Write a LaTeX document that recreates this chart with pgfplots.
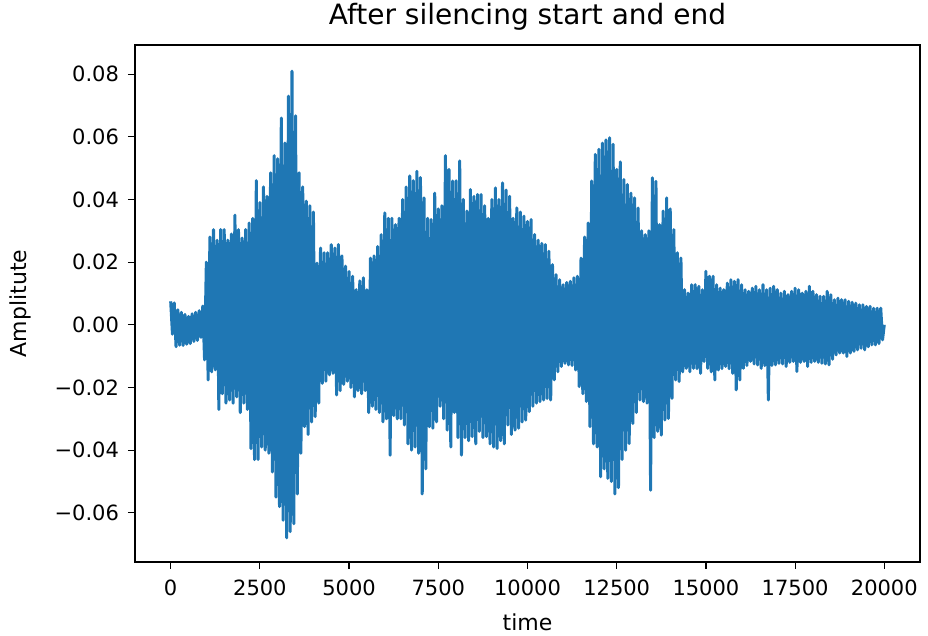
\documentclass[border=0pt]{standalone}
\usepackage{fontspec}
\setmainfont{DejaVu Sans}
\usepackage{pgfplots}
\pgfplotsset{compat=1.18}
\definecolor{mplblue}{HTML}{1F77B4}

\begin{document}
\begin{tikzpicture}
% page size: 1px of the reference = 0.5pt
\path[use as bounding box] (-67.5pt,-37pt) rectangle (396.5pt,281pt);
\begin{axis}[
    scale only axis,
    width=392.5pt, height=258.5pt,
    at={(0pt,0pt)}, anchor=south west,
    xmin=-1000, xmax=21000,
    ymin=-0.0757, ymax=0.0893,
    scaled ticks=false,
    font=\fontsize{10.5}{12.5}\selectfont,
    xtick={0,2500,5000,7500,10000,12500,15000,17500,20000},
    xticklabels={0,2500,5000,7500,10000,12500,15000,17500,20000},
    ytick={-0.06,-0.04,-0.02,0,0.02,0.04,0.06,0.08},
    yticklabels={−0.06,−0.04,−0.02,0.00,0.02,0.04,0.06,0.08},
    tick align=outside,
    xtick pos=bottom, ytick pos=left,
    major tick length=3.5pt,
    tick style={black, line width=0.6pt},
    axis line style={black, line width=0.6pt},
    xticklabel style={yshift=-2pt},
    yticklabel style={xshift=-1pt},
    title={After silencing start and end},
    title style={font=\fontsize{14}{16}\selectfont, yshift=-2pt},
    xlabel={time},
    ylabel={Amplitute},
    label style={font=\fontsize{11}{13}\selectfont},
    xlabel style={yshift=-2pt},
    ylabel style={yshift=5pt},
]
\addplot[mplblue, line width=1.5pt, line join=round, mark=none] table[row sep=\\] {
t v\\
0 0.0075\\ 50 -0.003\\ 100 0.007\\ 150 -0.007\\ 200 0.0048\\ 250 -0.0065\\ 300 0.004\\ 350 -0.0066\\ 400 0.0033\\ 450 -0.0062\\
500 0.0027\\ 550 -0.006\\ 600 0.0035\\ 650 -0.0053\\ 700 0.004\\ 750 -0.005\\ 800 0.0045\\ 850 -0.004\\ 900 0.006\\ 950 -0.0112\\
1000 0.020\\ 1050 -0.0176\\ 1100 0.028\\ 1150 -0.015\\ 1200 0.0304\\ 1250 -0.0144\\ 1300 0.027\\ 1350 -0.027\\ 1400 0.0304\\ 1450 -0.022\\
1500 0.0304\\ 1550 -0.025\\ 1600 0.027\\ 1650 -0.024\\ 1700 0.029\\ 1750 -0.025\\ 1800 0.035\\ 1850 -0.023\\ 1900 0.0304\\ 1950 -0.028\\
2000 0.0277\\ 2050 -0.025\\ 2100 0.0304\\ 2150 -0.027\\ 2200 0.0325\\ 2250 -0.0395\\ 2300 0.034\\ 2350 -0.043\\ 2400 0.046\\ 2450 -0.043\\
2500 0.039\\ 2550 -0.039\\ 2600 0.044\\ 2650 -0.040\\ 2700 0.041\\ 2750 -0.041\\ 2800 0.0485\\ 2850 -0.047\\ 2900 0.054\\ 2950 -0.055\\
3000 0.053\\ 3050 -0.058\\ 3100 0.066\\ 3150 -0.0624\\ 3200 0.058\\ 3250 -0.068\\ 3300 0.073\\ 3350 -0.066\\ 3400 0.081\\ 3450 -0.0635\\
3500 0.0667\\ 3550 -0.054\\ 3600 0.0485\\ 3650 -0.041\\ 3700 0.044\\ 3750 -0.0325\\ 3800 0.0395\\ 3850 -0.035\\ 3900 0.038\\ 3950 -0.031\\
4000 0.036\\ 4050 -0.0293\\ 4100 0.0197\\ 4150 -0.025\\ 4200 0.0245\\ 4250 -0.0187\\ 4300 0.023\\ 4350 -0.018\\ 4400 0.023\\ 4450 -0.016\\
4500 0.0256\\ 4550 -0.0155\\ 4600 0.0245\\ 4650 -0.0224\\ 4700 0.0256\\ 4750 -0.021\\ 4800 0.022\\ 4850 -0.019\\ 4900 0.0187\\ 4950 -0.018\\
5000 0.017\\ 5050 -0.020\\ 5100 0.0155\\ 5150 -0.023\\ 5200 0.0112\\ 5250 -0.021\\ 5300 0.014\\ 5350 -0.022\\ 5400 0.015\\ 5450 -0.021\\
5500 0.0112\\ 5550 -0.028\\ 5600 0.0213\\ 5650 -0.026\\ 5700 0.022\\ 5750 -0.027\\ 5800 0.025\\ 5850 -0.028\\ 5900 0.0288\\ 5950 -0.031\\
6000 0.0357\\ 6050 -0.030\\ 6100 0.034\\ 6150 -0.0416\\ 6200 0.034\\ 6250 -0.029\\ 6300 0.032\\ 6350 -0.030\\ 6400 0.034\\ 6450 -0.030\\
6500 0.040\\ 6550 -0.032\\ 6600 0.044\\ 6650 -0.038\\ 6700 0.0475\\ 6750 -0.040\\ 6800 0.046\\ 6850 -0.039\\ 6900 0.049\\ 6950 -0.041\\
7000 0.047\\ 7050 -0.054\\ 7100 0.0405\\ 7150 -0.046\\ 7200 0.034\\ 7250 -0.0325\\ 7300 0.0336\\ 7350 -0.033\\ 7400 0.042\\ 7450 -0.031\\
7500 0.037\\ 7550 -0.026\\ 7600 0.038\\ 7650 -0.030\\ 7700 0.054\\ 7750 -0.0336\\ 7800 0.0496\\ 7850 -0.039\\ 7900 0.0459\\ 7950 -0.028\\
8000 0.046\\ 8050 -0.036\\ 8100 0.0523\\ 8150 -0.0416\\ 8200 0.040\\ 8250 -0.036\\ 8300 0.0363\\ 8350 -0.037\\ 8400 0.0432\\ 8450 -0.0357\\
8500 0.041\\ 8550 -0.038\\ 8600 0.0416\\ 8650 -0.034\\ 8700 0.0416\\ 8750 -0.036\\ 8800 0.038\\ 8850 -0.0357\\ 8900 0.034\\ 8950 -0.038\\
9000 0.040\\ 9050 -0.039\\ 9100 0.0437\\ 9150 -0.0395\\ 9200 0.040\\ 9250 -0.037\\ 9300 0.0453\\ 9350 -0.038\\ 9400 0.043\\ 9450 -0.032\\
9500 0.041\\ 9550 -0.035\\ 9600 0.034\\ 9650 -0.0336\\ 9700 0.0373\\ 9750 -0.033\\ 9800 0.036\\ 9850 -0.031\\ 9900 0.0347\\ 9950 -0.0304\\
10000 0.033\\ 10050 -0.0277\\ 10100 0.0336\\ 10150 -0.026\\ 10200 0.0288\\ 10250 -0.025\\ 10300 0.027\\ 10350 -0.0245\\ 10400 0.026\\ 10450 -0.024\\
10500 0.0256\\ 10550 -0.0235\\ 10600 0.0235\\ 10650 -0.024\\ 10700 0.0192\\ 10750 -0.0176\\ 10800 0.016\\ 10850 -0.015\\ 10900 0.0144\\ 10950 -0.0133\\
11000 0.0128\\ 11050 -0.0123\\ 11100 0.0135\\ 11150 -0.0128\\ 11200 0.0139\\ 11250 -0.013\\ 11300 0.015\\ 11350 -0.0144\\ 11400 0.0155\\ 11450 -0.0197\\
11500 0.0213\\ 11550 -0.022\\ 11600 0.028\\ 11650 -0.0245\\ 11700 0.0325\\ 11750 -0.0325\\ 11800 0.0459\\ 11850 -0.038\\ 11900 0.0544\\ 11950 -0.039\\
12000 0.056\\ 12050 -0.0485\\ 12100 0.058\\ 12150 -0.046\\ 12200 0.059\\ 12250 -0.049\\ 12300 0.0597\\ 12350 -0.050\\ 12400 0.0576\\ 12450 -0.054\\
12500 0.0496\\ 12550 -0.052\\ 12600 0.052\\ 12650 -0.043\\ 12700 0.0464\\ 12750 -0.040\\ 12800 0.0448\\ 12850 -0.0379\\ 12900 0.042\\ 12950 -0.0315\\
13000 0.0405\\ 13050 -0.028\\ 13100 0.0373\\ 13150 -0.024\\ 13200 0.030\\ 13250 -0.0245\\ 13300 0.0288\\ 13350 -0.025\\ 13400 0.030\\ 13450 -0.0528\\
13500 0.0469\\ 13550 -0.036\\ 13600 0.0458\\ 13650 -0.034\\ 13700 0.032\\ 13750 -0.0352\\ 13800 0.0363\\ 13850 -0.0304\\ 13900 0.0405\\ 13950 -0.0299\\
14000 0.037\\ 14050 -0.0235\\ 14100 0.0304\\ 14150 -0.0176\\ 14200 0.023\\ 14250 -0.0181\\ 14300 0.0213\\ 14350 -0.015\\ 14400 0.0112\\ 14450 -0.0139\\
14500 0.0101\\ 14550 -0.015\\ 14600 0.0128\\ 14650 -0.0139\\ 14700 0.0128\\ 14750 -0.014\\ 14800 0.0123\\ 14850 -0.0155\\ 14900 0.0112\\ 14950 -0.0117\\
15000 0.0171\\ 15050 -0.0139\\ 15100 0.0155\\ 15150 -0.015\\ 15200 0.0155\\ 15250 -0.0176\\ 15300 0.0128\\ 15350 -0.0144\\ 15400 0.0117\\ 15450 -0.014\\
15500 0.0112\\ 15550 -0.0133\\ 15600 0.0133\\ 15650 -0.014\\ 15700 0.0144\\ 15750 -0.0155\\ 15800 0.0139\\ 15850 -0.0208\\ 15900 0.0144\\ 15950 -0.0176\\
16000 0.0128\\ 16050 -0.0139\\ 16100 0.0112\\ 16150 -0.013\\ 16200 0.0107\\ 16250 -0.0117\\ 16300 0.0117\\ 16350 -0.0125\\ 16400 0.0123\\ 16450 -0.0128\\
16500 0.0112\\ 16550 -0.0139\\ 16600 0.0128\\ 16650 -0.013\\ 16700 0.0112\\ 16750 -0.024\\ 16800 0.0117\\ 16850 -0.013\\ 16900 0.0123\\ 16950 -0.0128\\
17000 0.0112\\ 17050 -0.0123\\ 17100 0.0101\\ 17150 -0.0125\\ 17200 0.0107\\ 17250 -0.0133\\ 17300 0.0096\\ 17350 -0.012\\ 17400 0.0107\\ 17450 -0.0117\\
17500 0.0117\\ 17550 -0.0149\\ 17600 0.0112\\ 17650 -0.012\\ 17700 0.0101\\ 17750 -0.0117\\ 17800 0.0107\\ 17850 -0.0133\\ 17900 0.0123\\ 17950 -0.012\\
18000 0.0107\\ 18050 -0.0117\\ 18100 0.0096\\ 18150 -0.012\\ 18200 0.0091\\ 18250 -0.0123\\ 18300 0.0091\\ 18350 -0.0125\\ 18400 0.0107\\ 18450 -0.0128\\
18500 0.0096\\ 18550 -0.011\\ 18600 0.008\\ 18650 -0.0096\\ 18700 0.0085\\ 18750 -0.009\\ 18800 0.008\\ 18850 -0.009\\ 18900 0.008\\ 18950 -0.0101\\
19000 0.0075\\ 19050 -0.009\\ 19100 0.0072\\ 19150 -0.0085\\ 19200 0.0069\\ 19250 -0.008\\ 19300 0.0064\\ 19350 -0.0075\\ 19400 0.0064\\ 19450 -0.008\\
19500 0.0059\\ 19550 -0.007\\ 19600 0.0059\\ 19650 -0.0064\\ 19700 0.0053\\ 19750 -0.0064\\ 19800 0.0053\\ 19850 -0.006\\ 19900 0.0053\\ 19950 -0.0048\\
19999 0.0\\
};
\end{axis}
\end{tikzpicture}
\end{document}
